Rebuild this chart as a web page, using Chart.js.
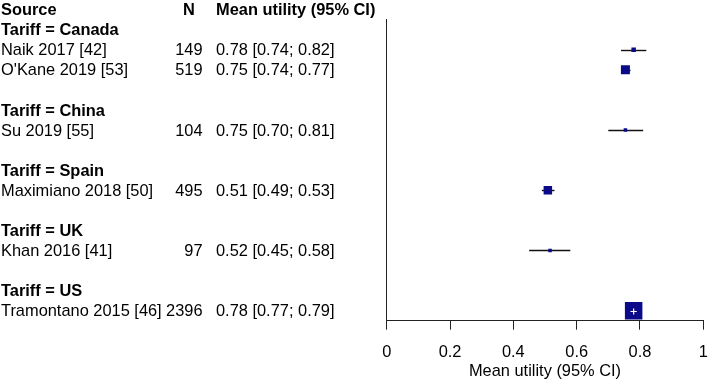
<!DOCTYPE html>
<html>
<head>
<meta charset="utf-8">
<script src="https://cdn.jsdelivr.net/npm/chart.js@4"></script>
<style>
  body { margin: 0; background: #fff; }
  #box { width: 709px; height: 383px; }
</style>
</head>
<body>
<div id="box"><canvas id="forest"></canvas></div>
<script>
// data
var studies = ["Naik 2017 [42]", "O'Kane 2019 [53]", "Su 2019 [55]", "Maximiano 2018 [50]", "Khan 2016 [41]", "Tramontano 2015 [46]"];
var tariffs = ["Canada", "Canada", "China", "Spain", "UK", "US"];
var sampleN = [149, 519, 104, 495, 97, 2396];
var meanUtility = [0.78, 0.754, 0.754, 0.509, 0.516, 0.78];
var ciLower = [0.74, 0.74, 0.70, 0.49, 0.45, 0.77];
var ciUpper = [0.82, 0.77, 0.81, 0.53, 0.58, 0.79];
var ciLabels = ["0.78 [0.74; 0.82]", "0.75 [0.74; 0.77]", "0.75 [0.70; 0.81]", "0.51 [0.49; 0.53]", "0.52 [0.45; 0.58]", "0.78 [0.77; 0.79]"];
var xTicks = [0, 0.2, 0.4, 0.6, 0.8, 1];
var xTickLabels = ["0", "0.2", "0.4", "0.6", "0.8", "1"];

// square side in px (study weight)
var boxSide = [4.5, 9, 3.5, 8.5, 3.5, 17.5];

var fontFamily = "'Liberation Sans', Arial, sans-serif";
var fontSize = 16.4;

// build rows: header, then group label + studies, blank line between groups
var rows = [{type: "header"}];
var studyRow = [];
var lastTariff = null;
for (var i = 0; i < studies.length; i++)
{
    if (tariffs[i] != lastTariff)
    {
        if (lastTariff !== null) rows.push({type: "blank"});
        rows.push({type: "group", text: "Tariff = " + tariffs[i]});
        lastTariff = tariffs[i];
    }
    studyRow.push(rows.length);
    rows.push({type: "study", idx: i});
}

var points = [];
for (var i = 0; i < studies.length; i++)
{
    points.push({x: meanUtility[i], y: studyRow[i]});
}

var ciPlugin = {
    id: "ciLines",
    beforeDatasetsDraw: function (chart) {
        var ctx = chart.ctx, xs = chart.scales.x, ys = chart.scales.y;
        ctx.save();
        ctx.strokeStyle = "#111";
        ctx.lineWidth = 1.4;
        for (var i = 0; i < studies.length; i++)
        {
            var y = Math.round(ys.getPixelForValue(studyRow[i])) + 0.5;
            ctx.beginPath();
            ctx.moveTo(xs.getPixelForValue(ciLower[i]), y);
            ctx.lineTo(xs.getPixelForValue(ciUpper[i]), y);
            ctx.stroke();
        }
        ctx.restore();
    },
    afterDatasetsDraw: function (chart) {
        var ctx = chart.ctx, xs = chart.scales.x, ys = chart.scales.y;
        ctx.save();
        ctx.strokeStyle = "#fff";
        ctx.lineWidth = 1.2;
        for (var i = 0; i < studies.length; i++)
        {
            var x0 = xs.getPixelForValue(ciLower[i]);
            var x1 = xs.getPixelForValue(ciUpper[i]);
            var xm = xs.getPixelForValue(meanUtility[i]);
            // CI fully inside the square -> white line
            if (x1 - x0 < boxSide[i] - 2)
            {
                var y = Math.round(ys.getPixelForValue(studyRow[i])) + 0.5;
                ctx.beginPath();
                ctx.moveTo(x0, y);
                ctx.lineTo(x1, y);
                ctx.moveTo(xm, y - 3);
                ctx.lineTo(xm, y + 3);
                ctx.stroke();
            }
        }
        ctx.restore();
    },
    afterDraw: function (chart) {
        var ctx = chart.ctx, ys = chart.scales.y;
        var plain = fontSize + "px " + fontFamily;
        var bold = "bold " + fontSize + "px " + fontFamily;
        ctx.save();
        ctx.fillStyle = "#000";
        ctx.textBaseline = "middle";
        for (var r = 0; r < rows.length; r++)
        {
            var y = ys.getPixelForValue(r) + 1;
            var row = rows[r];
            if (row.type == "header")
            {
                ctx.font = bold;
                ctx.textAlign = "left";
                ctx.fillText("Source", 1, y);
                ctx.textAlign = "center";
                ctx.fillText("N", 189, y);
                ctx.textAlign = "left";
                ctx.fillText("Mean utility (95% CI)", 216, y);
            }
            else if (row.type == "group")
            {
                ctx.font = bold;
                ctx.textAlign = "left";
                ctx.fillText(row.text, 1, y);
            }
            else if (row.type == "study")
            {
                ctx.font = plain;
                ctx.textAlign = "left";
                ctx.fillText(studies[row.idx], 1, y);
                ctx.textAlign = "right";
                ctx.fillText(String(sampleN[row.idx]), 202.5, y);
                ctx.textAlign = "left";
                ctx.fillText(ciLabels[row.idx], 216, y);
            }
        }
        ctx.restore();
    }
};

var chart = new Chart(document.getElementById("forest"), {
    type: "scatter",
    data: {
        datasets: [{
            label: "Mean utility",
            data: points,
            pointStyle: "rect",
            pointRadius: boxSide.map(function (s) { return s / Math.SQRT2; }),
            pointBackgroundColor: "#0b0b8a",
            pointBorderWidth: 0,
            pointHoverRadius: boxSide.map(function (s) { return s / Math.SQRT2; })
        }]
    },
    options: {
        responsive: true,
        maintainAspectRatio: false,
        animation: false,
        events: [],
        layout: {
            autoPadding: false,
            padding: {left: 386.7, right: 5.7, top: 19.7, bottom: 0}
        },
        plugins: {
            legend: {display: false},
            tooltip: {enabled: false}
        },
        scales: {
            x: {
                type: "linear",
                min: 0,
                max: 1,
                afterBuildTicks: function (scale) {
                    scale.ticks = xTicks.map(function (v) { return {value: v}; });
                },
                afterFit: function (scale) {
                    scale.height = 62.3;
                    scale.paddingLeft = 0;
                    scale.paddingRight = 0;
                },
                grid: {
                    drawOnChartArea: false,
                    tickLength: 9,
                    color: "#222",
                    lineWidth: 1
                },
                border: {color: "#222", width: 1},
                ticks: {
                    color: "#000",
                    padding: 13,
                    maxRotation: 0,
                    callback: function (value, index) { return xTickLabels[index]; },
                    font: {family: fontFamily, size: fontSize}
                },
                title: {
                    display: true,
                    text: "Mean utility (95% CI)",
                    color: "#000",
                    padding: {top: 0, bottom: 1.2},
                    font: {family: fontFamily, size: fontSize}
                }
            },
            y: {
                type: "linear",
                reverse: true,
                min: 0.5,
                max: rows.length - 0.5,
                afterFit: function (scale) { scale.width = 0; },
                grid: {display: true, drawOnChartArea: false, drawTicks: false},
                border: {color: "#222", width: 1},
                ticks: {display: false}
            }
        }
    },
    plugins: [ciPlugin]
});
</script>
</body>
</html>
